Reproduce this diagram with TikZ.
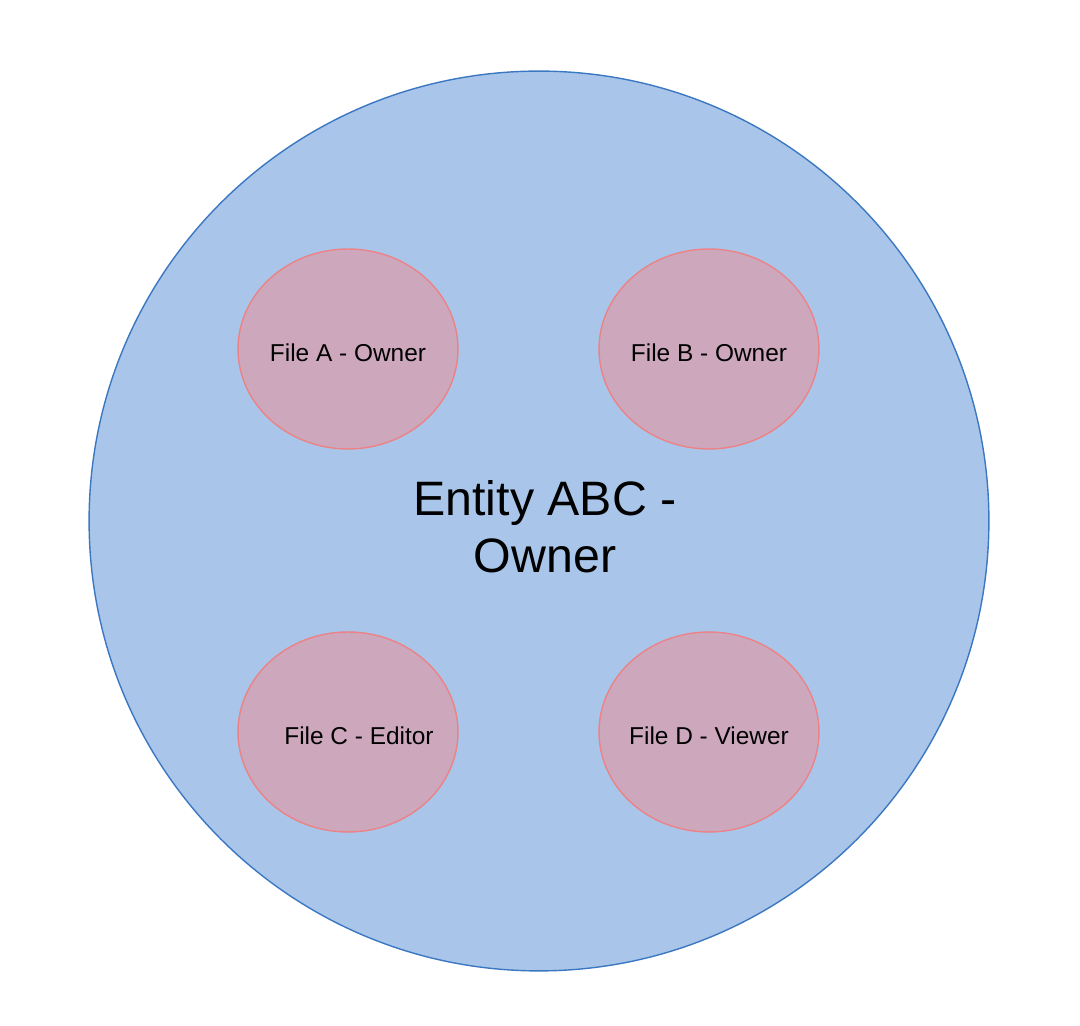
\documentclass[tikz,border=0pt]{standalone}
\usepackage{fontspec}
\setmainfont{Liberation Sans}
\usetikzlibrary{shapes.geometric,positioning}
\definecolor{kekfill}{HTML}{A9C6EA}
\definecolor{kekvonal}{HTML}{3C78C2}
\definecolor{rozsafill}{HTML}{CDA8BD}
\definecolor{rozsavonal}{HTML}{EC8286}
\newcommand{\fajlszoveg}[1]{\raisebox{-0.26cm}[0pt][0pt]{\makebox[0pt]{#1}}}
\tikzset{
  entitas/.style={circle,draw=kekvonal,fill=kekfill,line width=0.8pt,minimum size=18cm,inner sep=0pt},
  fajl/.style={ellipse,draw=rozsavonal,fill=rozsafill,line width=0.8pt,minimum width=4.4cm,minimum height=4cm,inner sep=0pt,font=\fontsize{13.9}{16}\selectfont},
  nagy/.style={align=center,font=\fontsize{27.5}{32.4}\selectfont},
}
\begin{document}
\begin{tikzpicture}[x=0.02cm,y=-0.02cm]
  \useasboundingbox (0,0) rectangle (1080,1026);
  \node[entitas] (ent) at (539,521) {};
  \node[nagy] (enttxt) at (545,527) {Entity ABC -\\Owner};
  \node[fajl] (fa) at (348,349) {\fajlszoveg{File A - Owner}};
  \node[fajl] (fb) at (709,349) {\fajlszoveg{File B - Owner}};
  \node[fajl] (fc) at (348,732) {\fajlszoveg{\hspace{0.44cm}File C - Editor}};
  \node[fajl] (fd) at (709,732) {\fajlszoveg{File D - Viewer}};
\end{tikzpicture}
\end{document}
